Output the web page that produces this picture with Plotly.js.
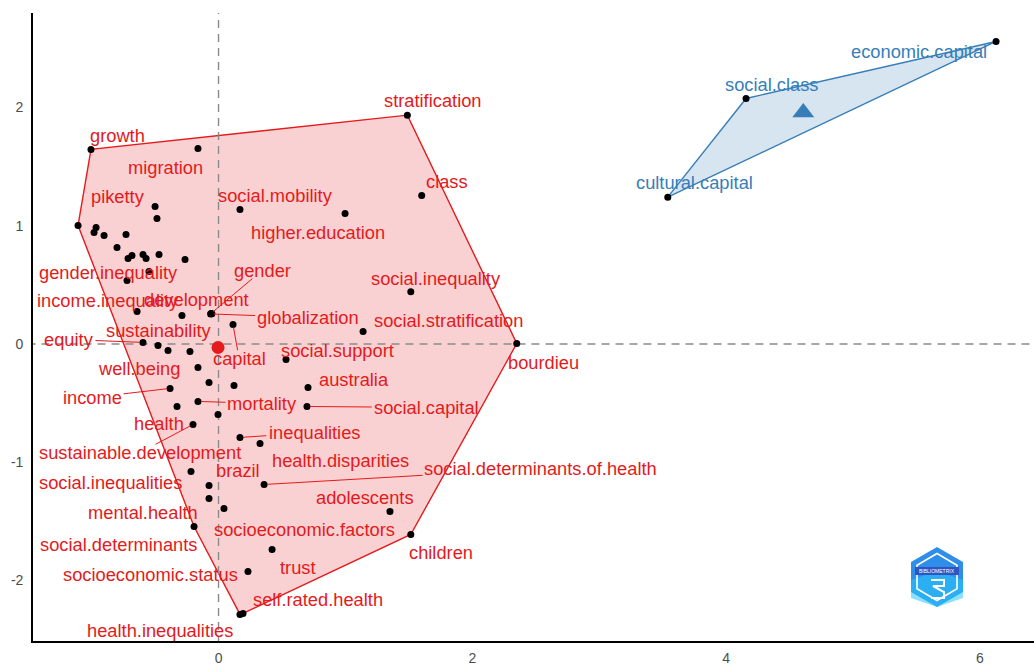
<!DOCTYPE html>
<html><head><meta charset="utf-8">
<script src="https://cdn.plot.ly/plotly-3.0.1.min.js"></script>
<style>html,body{margin:0;padding:0;background:#fff}#chart{width:1034px;height:665px}</style>
</head><body><div id="chart"></div>
<script>
// ---- Data ----
const cluster1Words = ["growth","migration","stratification","class","piketty","social.mobility","higher.education","social.inequality","gender.inequality","gender","income.inequality","development","globalization","sustainability","equity","capital","social.stratification","social.support","bourdieu","well.being","australia","income","mortality","social.capital","health","sustainable.development","inequalities","health.disparities","social.determinants.of.health","brazil","social.inequalities","adolescents","mental.health","socioeconomic.factors","children","social.determinants","trust","socioeconomic.status","self.rated.health","health.inequalities"];
const cluster1X = [-1.005,-0.162,1.488,1.601,-1.107,0.169,0.997,1.515,-0.721,-0.059,-0.642,-0.052,-0.062,-0.288,-0.595,0.114,1.139,0.532,2.350,-0.477,0.705,-0.382,-0.162,0.697,-0.327,-0.201,0.169,0.327,0.359,-0.075,-0.217,1.351,-0.193,0.043,1.515,-0.075,0.422,0.232,0.193,0.169];
const cluster1Y = [1.646,1.654,1.936,1.256,1.003,1.138,1.104,0.442,0.537,0.258,0.275,0.255,0.254,0.241,0.013,0.165,0.106,-0.131,0.004,-0.013,-0.368,-0.376,-0.486,-0.529,-0.529,-0.681,-0.791,-0.842,-1.189,-1.197,-1.079,-1.417,-1.544,-1.392,-1.612,-1.307,-1.739,-1.925,-2.280,-2.288];
// repelled label positions (data units) and whether a connector segment is drawn
const cluster1LabelX = [-0.800,-0.414,1.690,1.800,-0.792,0.445,0.784,1.714,-0.871,0.343,-0.871,-0.177,0.705,-0.469,-1.178,0.162,1.816,0.934,2.557,-0.630,1.064,-0.997,0.343,1.635,-0.469,-0.619,0.753,0.965,2.541,0.154,-0.855,1.154,-0.595,0.674,1.753,-0.784,0.626,-0.540,0.784,-0.461];
const cluster1LabelY = [1.764,1.493,2.060,1.375,1.248,1.256,0.943,0.554,0.605,0.622,0.368,0.376,0.224,0.114,0.038,-0.123,0.199,-0.055,-0.157,-0.207,-0.300,-0.453,-0.503,-0.537,-0.673,-0.919,-0.749,-0.986,-1.053,-1.070,-1.172,-1.299,-1.426,-1.569,-1.764,-1.696,-1.891,-1.950,-2.162,-2.424];
const cluster1Segment = [0,0,0,0,0,0,0,0,0,1,0,0,1,0,1,1,0,0,0,0,0,1,1,1,0,1,1,0,1,0,0,0,0,0,0,0,0,0,0,0];
// cluster 1 points whose labels were dropped by the repel step
const cluster1HiddenX = [-0.500,-0.485,-0.965,-0.981,-0.902,-0.729,-0.800,-0.713,-0.682,-0.595,-0.571,-0.469,-0.264,-0.548,-0.398,-0.225,-0.162,-0.075,0.122,-0.004];
const cluster1HiddenY = [1.163,1.062,0.986,0.943,0.918,0.926,0.816,0.723,0.749,0.757,0.723,0.757,0.715,0.613,-0.055,-0.063,-0.199,-0.326,-0.351,-0.596];
const cluster2Words = ["economic.capital","social.class","cultural.capital"];
const cluster2X = [6.127,4.157,3.540];
const cluster2Y = [2.559,2.077,1.242];
const cluster2LabelX = [5.520,4.358,3.747];
const cluster2LabelY = [2.475,2.195,1.366];
const centroidX = [-0.004, 4.608];
const centroidY = [-0.030, 1.959];
const xTickVals = [0,2,4,6];
const xTickText = ["0","2","4","6"];
const yTickVals = [-2,-1,0,1,2];
const yTickText = ["-2","-1","0","1","2"];

// ---- Styling / layout ----
const RED = "#E41A1C", BLUE = "#377EB8";
const FS = 18.3, FONT = "Liberation Sans, Arial, sans-serif";
const M = {l:33, r:0, t:13, b:24};
const W = 1034 - M.l - M.r, H = 665 - M.t - M.b;
const XR = [-1.462, 6.426], YR = [-2.513, 2.800];
const x2px = x => M.l + (x - XR[0]) / (XR[1]-XR[0]) * W;
const y2px = y => M.t + (YR[1] - y) / (YR[1]-YR[0]) * H;
const px2x = p => XR[0] + (p - M.l) / W * (XR[1]-XR[0]);
const px2y = p => YR[1] - (p - M.t) / H * (YR[1]-YR[0]);

function hull(xs, ys) {
  const pts = xs.map((x,i)=>[x,ys[i]]).sort((a,b)=>a[0]-b[0]||a[1]-b[1]);
  const cross=(o,a,b)=>(a[0]-o[0])*(b[1]-o[1])-(a[1]-o[1])*(b[0]-o[0]);
  const lo=[],up=[];
  for(const p of pts){while(lo.length>=2&&cross(lo[lo.length-2],lo[lo.length-1],p)<=0)lo.pop();lo.push(p);}
  for(const p of pts.slice().reverse()){while(up.length>=2&&cross(up[up.length-2],up[up.length-1],p)<=0)up.pop();up.push(p);}
  up.pop();lo.pop();
  const h=lo.concat(up); h.push(h[0]);
  return {x:h.map(p=>p[0]), y:h.map(p=>p[1])};
}
const allX1 = cluster1X.concat(cluster1HiddenX), allY1 = cluster1Y.concat(cluster1HiddenY);
const h1 = hull(allX1, allY1), h2 = hull(cluster2X, cluster2Y);

const traces = [
  {x:h1.x, y:h1.y, type:"scatter", mode:"lines", fill:"toself", fillcolor:"rgba(228,26,28,0.2)", line:{color:RED, width:1.4}, hoverinfo:"skip"},
  {x:h2.x, y:h2.y, type:"scatter", mode:"lines", fill:"toself", fillcolor:"rgba(55,126,184,0.2)", line:{color:BLUE, width:1.4}, hoverinfo:"skip"},
  {x:[-10,10], y:[0,0], type:"scatter", mode:"lines", line:{color:"#8a8a8a", width:1.4, dash:"8px,6px"}, hoverinfo:"skip"},
  {x:[0,0], y:[-10,10], type:"scatter", mode:"lines", line:{color:"#8a8a8a", width:1.4, dash:"8px,6px"}, hoverinfo:"skip"},
  {x:allX1.concat(cluster2X), y:allY1.concat(cluster2Y), type:"scatter", mode:"markers", marker:{color:"#000", size:7}, hoverinfo:"skip"},
  {x:[centroidX[0]], y:[centroidY[0]], type:"scatter", mode:"markers", marker:{color:RED, size:13, symbol:"circle"}, hoverinfo:"skip"},
  {x:[centroidX[1]], y:[centroidY[1]], type:"scatter", mode:"markers", marker:{color:BLUE, size:19, symbol:"triangle-up"}, hoverinfo:"skip"}
];

const ctx = document.createElement("canvas").getContext("2d");
ctx.font = FS + "px 'Liberation Sans'";
const annotations = [], shapes = [];
cluster1Words.forEach((w,i)=>{
  annotations.push({x:cluster1LabelX[i], y:cluster1LabelY[i], xref:"x", yref:"y", text:w, showarrow:false,
    font:{family:FONT, size:FS, color:RED}, xanchor:"center", yanchor:"middle"});
  if (cluster1Segment[i]) {
    const cx = x2px(cluster1LabelX[i]), cy = y2px(cluster1LabelY[i]);
    const px = x2px(cluster1X[i]), py = y2px(cluster1Y[i]);
    const hw = ctx.measureText(w).width/2 + 2, hh = FS*0.45;
    const dx = px-cx, dy = py-cy;
    const t = Math.min(dx!==0 ? hw/Math.abs(dx) : Infinity, dy!==0 ? hh/Math.abs(dy) : Infinity);
    const ex = cx + dx*t, ey = cy + dy*t;
    const len = Math.hypot(px-ex, py-ey);
    const sx = px - (px-ex)/len*3, sy = py - (py-ey)/len*3;
    shapes.push({type:"line", xref:"x", yref:"y", x0:px2x(sx), y0:px2y(sy), x1:px2x(ex), y1:px2y(ey), line:{color:RED, width:1}, layer:"above"});
  }
});
cluster2Words.forEach((w,i)=>{
  annotations.push({x:cluster2LabelX[i], y:cluster2LabelY[i], xref:"x", yref:"y", text:w, showarrow:false,
    font:{family:FONT, size:FS, color:BLUE}, xanchor:"center", yanchor:"middle"});
});

// bibliometrix logo (decoration), in paper coordinates
const pp = (px,py)=> ((px-M.l)/W).toFixed(5) + "," + ((M.t+H-py)/H).toFixed(5);
function hex(cx,cy,rw,rh){return "M"+pp(cx,cy-rh)+" L"+pp(cx+rw,cy-rh/2)+" L"+pp(cx+rw,cy+rh/2)+" L"+pp(cx,cy+rh)+" L"+pp(cx-rw,cy+rh/2)+" L"+pp(cx-rw,cy-rh/2)+" Z";}
shapes.push({type:"path", xref:"paper", yref:"paper", path:hex(937,577,26,30), fillcolor:"#2f8fe8", line:{width:0}, layer:"above"});
shapes.push({type:"path", xref:"paper", yref:"paper", path:hex(937,589,26,18), fillcolor:"rgba(40,200,250,0.55)", line:{width:0}, layer:"above"});
shapes.push({type:"path", xref:"paper", yref:"paper", path:hex(937,577,20,23.5), fillcolor:"rgba(0,0,0,0)", line:{color:"#fff", width:1.6}, layer:"above"});
shapes.push({type:"rect", xref:"paper", yref:"paper", x0:(915-M.l)/W, x1:(959-M.l)/W, y0:(M.t+H-575)/H, y1:(M.t+H-567)/H, fillcolor:"#2d55c4", line:{width:0}, layer:"above"});
shapes.push({type:"path", xref:"paper", yref:"paper", path:"M"+pp(931,580)+" L"+pp(944,580)+" L"+pp(944,586)+" L"+pp(933,586)+" L"+pp(944,592)+" L"+pp(944,598)+" L"+pp(931,598), fillcolor:"rgba(0,0,0,0)", line:{color:"#fff", width:2}, layer:"above"});
annotations.push({xref:"paper", yref:"paper", x:(937-M.l)/W, y:(M.t+H-571)/H, text:"BIBLIOMETRIX", showarrow:false, font:{family:FONT, size:5, color:"#fff"}, xanchor:"center", yanchor:"middle"});

const layout = {
  width:1034, height:665, margin:M, paper_bgcolor:"#fff", plot_bgcolor:"#fff", showlegend:false,
  xaxis:{range:XR, showgrid:false, zeroline:false, showline:true, linecolor:"#000", linewidth:1.8,
    tickvals:xTickVals, ticktext:xTickText, ticks:"outside", ticklen:3, tickcolor:"rgba(0,0,0,0)",
    tickfont:{family:FONT, size:14, color:"#4d4d4d"}, fixedrange:true},
  yaxis:{range:YR, showgrid:false, zeroline:false, showline:true, linecolor:"#000", linewidth:1.8,
    tickvals:yTickVals, ticktext:yTickText, ticks:"outside", ticklen:5, tickcolor:"rgba(0,0,0,0)",
    tickfont:{family:FONT, size:14, color:"#4d4d4d"}, fixedrange:true},
  annotations:annotations, shapes:shapes
};
Plotly.newPlot("chart", traces, layout, {staticPlot:true, displayModeBar:false});
</script></body></html>
